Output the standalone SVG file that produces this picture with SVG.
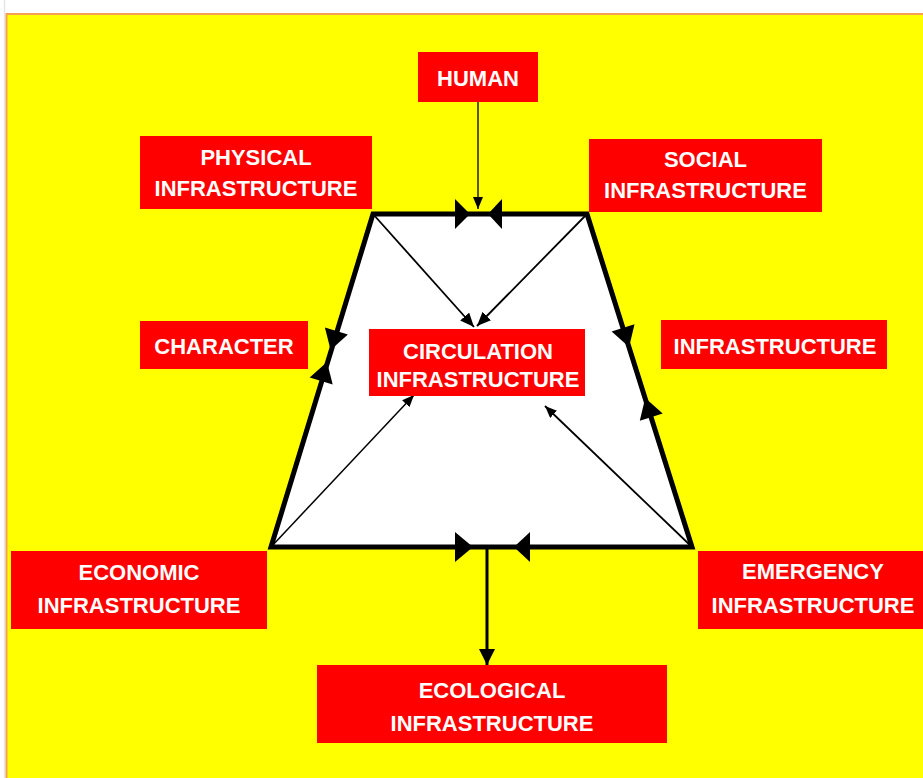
<svg xmlns="http://www.w3.org/2000/svg" width="923" height="778" viewBox="0 0 923 778">
<style>
.box{fill:#FF0000;}
.t{font-family:"Liberation Sans",Arial,sans-serif;font-weight:bold;font-size:22px;fill:#FFFFFF;text-anchor:middle;}
.ln{stroke:#000;fill:none;}
.ah{fill:#000;}
</style>
<defs>
<marker id="mS" viewBox="0 0 12 10" refX="12" refY="5" markerWidth="12" markerHeight="10" markerUnits="userSpaceOnUse" orient="auto">
<path d="M0,0 L12,5 L0,10 Z" fill="#000"/>
</marker>
<marker id="mM" viewBox="0 0 14 12" refX="14" refY="6" markerWidth="14" markerHeight="12" markerUnits="userSpaceOnUse" orient="auto">
<path d="M0,0 L14,6 L0,12 Z" fill="#000"/>
</marker>
<marker id="mL" viewBox="0 0 16 16" refX="16" refY="8" markerWidth="16" markerHeight="16" markerUnits="userSpaceOnUse" orient="auto">
<path d="M0,0 L16,8 L0,16 Z" fill="#000"/>
</marker>
</defs>
<rect x="0" y="0" width="923" height="778" fill="#FFFFFF"/>
<line x1="4.5" y1="0" x2="4.5" y2="778" stroke="#E6E6E6" stroke-width="1.5"/>
<rect x="6.5" y="14" width="920" height="770" fill="#FFFF00" stroke="#F4A050" stroke-width="2"/>

<g id="frame">
<polygon points="373,214 587,214 692,547 271,547" fill="#FFFFFF" stroke="#000" stroke-width="5" stroke-linejoin="miter"/>
</g>

<g id="connectors">
<line class="ln" x1="478" y1="102" x2="478" y2="209" stroke-width="1.3" marker-end="url(#mS)"/>
<line class="ln" x1="373" y1="214" x2="474" y2="327" stroke-width="1.8" marker-end="url(#mM)"/>
<line class="ln" x1="587" y1="214" x2="477" y2="326" stroke-width="1.8" marker-end="url(#mM)"/>
<line class="ln" x1="271" y1="547" x2="414" y2="395" stroke-width="1.5" marker-end="url(#mS)"/>
<line class="ln" x1="692" y1="547" x2="545" y2="406" stroke-width="1.8" marker-end="url(#mS)"/>
<line class="ln" x1="487" y1="549" x2="487" y2="665" stroke-width="3" marker-end="url(#mL)"/>
<polygon class="ah" points="455,199 470,214 455,229"/>
<polygon class="ah" points="502,199 488,214 502,229"/>
<polygon class="ah" points="455,532 473,547 455,562"/>
<polygon class="ah" points="530,532 514,547 530,562"/>
<polygon class="ah" points="347.9,334.4 330.6,350 324.9,327.4"/>
<polygon class="ah" points="332.7,384.6 327,362 309.7,377.6"/>
<polygon class="ah" points="634.5,324.3 629.1,347 611.6,331.5"/>
<polygon class="ah" points="662.7,413.5 645.2,398 639.8,420.7"/>
</g>

<g id="human">
<rect class="box" x="418" y="52" width="120" height="50"/>
<text class="t" x="478" y="86">HUMAN</text>
</g>
<g id="physical">
<rect class="box" x="140" y="136" width="232" height="73"/>
<text class="t" x="256" y="165">PHYSICAL</text>
<text class="t" x="256" y="196">INFRASTRUCTURE</text>
</g>
<g id="social">
<rect class="box" x="589" y="139" width="233" height="73"/>
<text class="t" x="705.5" y="167">SOCIAL</text>
<text class="t" x="705.5" y="198">INFRASTRUCTURE</text>
</g>
<g id="character">
<rect class="box" x="140" y="321" width="168" height="48"/>
<text class="t" x="224" y="354">CHARACTER</text>
</g>
<g id="infrastructure">
<rect class="box" x="661" y="320" width="226" height="49"/>
<text class="t" x="775" y="354">INFRASTRUCTURE</text>
</g>
<g id="circulation">
<rect class="box" x="369" y="329" width="216" height="67"/>
<text class="t" x="478" y="359">CIRCULATION</text>
<text class="t" x="478" y="387">INFRASTRUCTURE</text>
</g>
<g id="economic">
<rect class="box" x="11" y="551" width="256" height="78"/>
<text class="t" x="139" y="580">ECONOMIC</text>
<text class="t" x="139" y="613">INFRASTRUCTURE</text>
</g>
<g id="emergency">
<rect class="box" x="698" y="551" width="225" height="78"/>
<text class="t" x="813" y="579">EMERGENCY</text>
<text class="t" x="813" y="613">INFRASTRUCTURE</text>
</g>
<g id="ecological">
<rect class="box" x="317" y="665" width="350" height="78"/>
<text class="t" x="492" y="698">ECOLOGICAL</text>
<text class="t" x="492" y="731">INFRASTRUCTURE</text>
</g>
</svg>
